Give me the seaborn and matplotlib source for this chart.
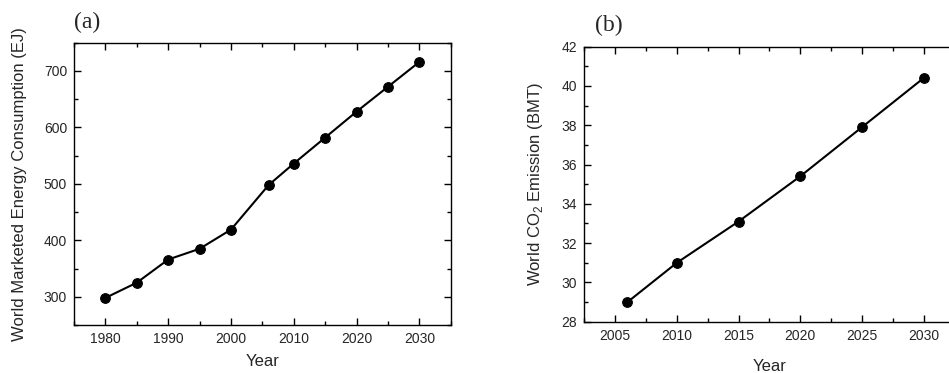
import matplotlib
matplotlib.use("Agg")
import matplotlib.pyplot as plt
from matplotlib.ticker import MultipleLocator
import seaborn as sns
import pandas as pd

# panel (a): world marketed energy consumption
years_a = [1980, 1985, 1990, 1995, 2000, 2006, 2010, 2015, 2020, 2025, 2030]
energy_ej = [298, 325, 366, 385, 419, 498, 536, 582, 628, 672, 716]

# panel (b): world CO2 emission
years_b = [2006, 2010, 2015, 2020, 2025, 2030]
co2_bmt = [29.0, 31.0, 33.1, 35.4, 37.9, 40.4]

sns.set_style("ticks")
plt.rcParams["font.family"] = ["Liberation Sans", "DejaVu Sans"]
plt.rcParams["mathtext.fontset"] = "custom"
plt.rcParams["mathtext.rm"] = "Liberation Sans"

fig = plt.figure(figsize=(9.49, 3.73), dpi=100)
ax1 = fig.add_axes([0.078, 0.1287, 0.397, 0.7568])
ax2 = fig.add_axes([0.6157, 0.1375, 0.39, 0.7373])

df_a = pd.DataFrame({"Year": years_a, "Energy": energy_ej})
df_b = pd.DataFrame({"Year": years_b, "CO2": co2_bmt})

sns.lineplot(data=df_a, x="Year", y="Energy", ax=ax1, color="black", lw=1.5,
             marker="o", markersize=7, markeredgecolor="black")
sns.lineplot(data=df_b, x="Year", y="CO2", ax=ax2, color="black", lw=1.5,
             marker="o", markersize=7, markeredgecolor="black")

ax1.set_xlim(1975, 2035)
ax1.set_ylim(250, 750)
ax1.xaxis.set_major_locator(MultipleLocator(10))
ax1.xaxis.set_minor_locator(MultipleLocator(5))
ax1.yaxis.set_major_locator(MultipleLocator(100))
ax1.yaxis.set_minor_locator(MultipleLocator(50))
ax1.set_yticks([300, 400, 500, 600, 700])
ax1.set_xlabel("Year", fontsize=12, labelpad=6)
ax1.set_ylabel("World Marketed Energy Consumption (EJ)", fontsize=12, labelpad=12)

ax2.set_xlim(2002.5, 2032.5)
ax2.set_ylim(28, 42)
ax2.xaxis.set_major_locator(MultipleLocator(5))
ax2.xaxis.set_minor_locator(MultipleLocator(2.5))
ax2.yaxis.set_major_locator(MultipleLocator(2))
ax2.yaxis.set_minor_locator(MultipleLocator(1))
ax2.set_xlabel("Year", fontsize=12, labelpad=12)
ax2.set_ylabel("World CO$_2$ Emission (BMT)", fontsize=12, labelpad=12)

for ax in (ax1, ax2):
    ax.tick_params(which="both", direction="in", top=True, right=True, labelsize=10,
                   width=1, color="black", pad=5)
    ax.tick_params(which="major", length=5)
    ax.tick_params(which="minor", length=3)
    for sp in ax.spines.values():
        sp.set_linewidth(1)
        sp.set_color("black")

# right side of panel (b) is cut off in the original
ax2.tick_params(which="both", right=False)

fig.text(0.078, 0.925, "(a)", fontsize=17, family="Liberation Serif")
fig.text(0.627, 0.918, "(b)", fontsize=17, family="Liberation Serif")

fig.savefig("out.png", dpi=100)
